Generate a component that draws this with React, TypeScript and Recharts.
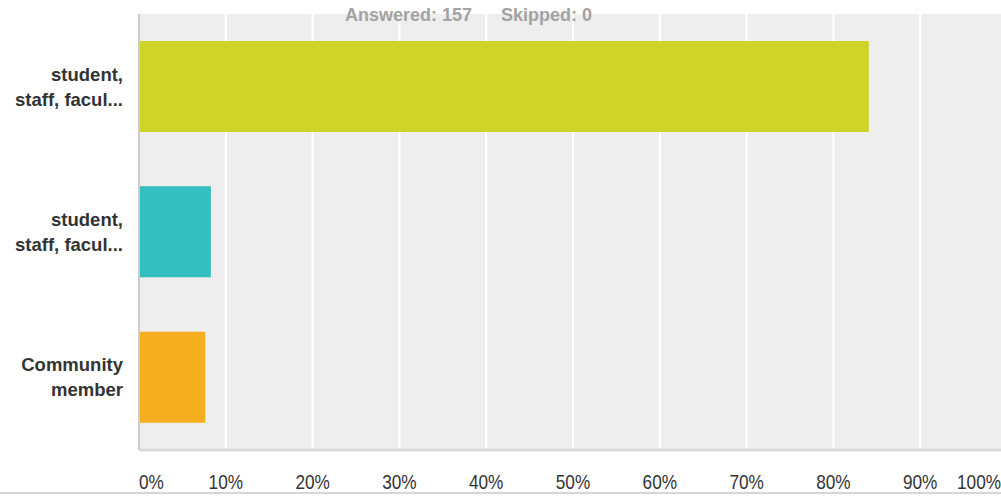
import React from "react";
import { BarChart, Bar, XAxis, YAxis, CartesianGrid, Cell } from "recharts";

// answer options (labels as shown, truncated in the source)
const categoryLines = [
  ["student,", "staff, facul..."],
  ["student,", "staff, facul..."],
  ["Community", "member"],
];
const percents = [84.08, 8.28, 7.64];
const barColors = ["#cfd428", "#33bec0", "#f6ae21"];
const xTicks = [0, 10, 20, 30, 40, 50, 60, 70, 80, 90, 100];
const answered = 157;
const skipped = 0;

const data = percents.map((value, i) => ({ id: i, value }));

const XTick = (props: any) => {
  const { x, y, payload } = props;
  let anchor: "start" | "middle" | "end" = "middle";
  let tx = x;
  if (payload.value === 0) anchor = "start";
  if (payload.value === 100) {
    anchor = "end";
    tx = 1001;
  }
  // narrow look: regular sans squeezed horizontally
  return (
    <g transform={`translate(${tx},${y + 31}) scale(0.82,1)`}>
      <text
        x={0}
        y={0}
        textAnchor={anchor}
        fill="#333"
        fontSize={21}
        fontFamily="'Liberation Sans', Arial, sans-serif"
      >
        {payload.value}%
      </text>
    </g>
  );
};

const YTick = (props: any) => {
  const { x, y, payload } = props;
  const lines = categoryLines[payload.value] || [];
  return (
    <text
      x={x}
      y={y}
      textAnchor="end"
      fill="#333"
      fontSize={18.5}
      fontWeight="bold"
      fontFamily="'Liberation Sans', Arial, sans-serif"
    >
      <tspan x={x} dy={-6}>{lines[0]}</tspan>
      <tspan x={x} dy={25}>{lines[1]}</tspan>
    </text>
  );
};

export default function App() {
  return (
    <div
      style={{
        position: "absolute",
        left: 0,
        top: 0,
        width: 1001,
        height: 496,
        overflow: "hidden",
        background: "#fff",
      }}
    >
      <BarChart
        width={1010}
        height={496}
        data={data}
        layout="vertical"
        margin={{ top: 14, right: 3, bottom: 0, left: 0 }}
      >
        <CartesianGrid
          horizontal={false}
          stroke="#ffffff"
          strokeWidth={2}
          fill="#eeeeee"
        />
        <XAxis
          type="number"
          domain={[0, 100]}
          ticks={xTicks}
          height={46}
          tickLine={false}
          axisLine={{ stroke: "#d9d9d9", strokeWidth: 3 }}
          tick={<XTick />}
          interval={0}
        />
        <YAxis
          type="category"
          dataKey="id"
          width={139}
          tickLine={false}
          tickSize={0}
          tickMargin={16}
          axisLine={{ stroke: "#cccccc", strokeWidth: 2 }}
          tick={<YTick />}
        />
        <Bar dataKey="value" barSize={91} isAnimationActive={false}>
          {data.map((d) => (
            <Cell key={d.id} fill={barColors[d.id]} />
          ))}
        </Bar>
      </BarChart>
      <div
        style={{
          position: "absolute",
          left: 345,
          top: 4,
          fontFamily: "'Liberation Sans', Arial, sans-serif",
          fontWeight: "bold",
          fontSize: 18,
          color: "#a3a3a3",
          whiteSpace: "pre",
          lineHeight: "22px",
        }}
      >
        <span>{`Answered: ${answered}`}</span>
        <span style={{ marginLeft: 29 }}>{`Skipped: ${skipped}`}</span>
      </div>
      <div
        style={{
          position: "absolute",
          left: 0,
          top: 492,
          width: 1001,
          height: 2,
          background: "#d6d6d6",
        }}
      />
    </div>
  );
}
